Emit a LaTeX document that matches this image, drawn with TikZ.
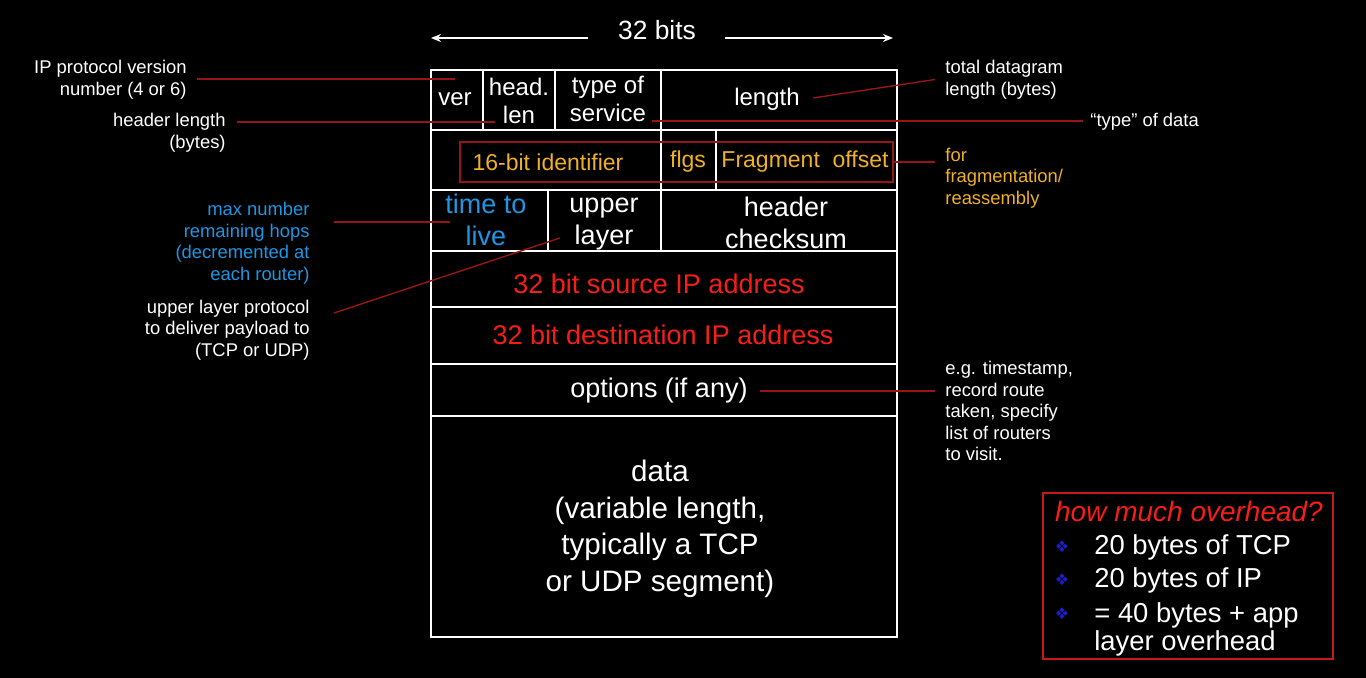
\documentclass[tikz,border=0pt]{standalone}
\usepackage{fontspec}
\setmainfont{Liberation Sans}
\newfontfamily\symfont{DejaVu Sans}
\usetikzlibrary{arrows.meta,calc}
\definecolor{fldorange}{RGB}{240,176,40}
\definecolor{fldblue}{RGB}{30,150,225}
\definecolor{fldred}{RGB}{245,30,25}
\definecolor{leadred}{RGB}{150,22,22}
\definecolor{boxred}{RGB}{200,25,25}
\definecolor{bulletblue}{RGB}{30,30,200}
\tikzset{
  field/.style={text=white, align=center, inner sep=0pt, font=\fontsize{13.5}{16}\selectfont},
  fieldsmall/.style={field, font=\fontsize{12}{14}\selectfont},
  fieldfrag/.style={field, text=fldorange, font=\fontsize{11.5}{14}\selectfont},
  note/.style={text=white, inner sep=0pt, font=\fontsize{9.2}{10.75}\selectfont},
  lead/.style={draw=leadred, line width=0.7pt},
  hdrline/.style={draw=white, line width=1pt},
  widtharrow/.style={draw=white, line width=0.8pt, -{Stealth[length=5pt,width=4pt]}},
  item/.style={text=white, inner sep=0pt, anchor=west, align=left, font=\fontsize{13.7}{14}\selectfont},
  bulletmark/.style={text=bulletblue, inner sep=0pt, font=\symfont\fontsize{8}{8}\selectfont},
}
\begin{document}
\begin{tikzpicture}[x=0.5pt,y=-0.5pt]
  \fill[black] (0,0) rectangle (1366,678);
  \useasboundingbox (0,0) rectangle (1366,678);

  % width of one row
  \node[field, font=\fontsize{13.2}{14}\selectfont] (bits) at (657,30) {32 bits};
  \coordinate (bitsL) at (431,38);
  \coordinate (bitsR) at (893,38);
  \draw[widtharrow] ($(bits.west)+(-30,8)$) -- (bitsL);
  \draw[widtharrow] ($(bits.east)+(29,8)$) -- (bitsR);

  % header grid
  \draw[hdrline] (431,70) rectangle (897,637);
  \foreach \y in {130,190,251,307,364,416}
    \draw[hdrline] (431,\y) -- (897,\y);
  \foreach \x in {483,555,661}
    \draw[hdrline] (\x,70) -- (\x,130);
  \foreach \x in {661,716}
    \draw[hdrline] (\x,130) -- (\x,190);
  \foreach \x in {548,661}
    \draw[hdrline] (\x,190) -- (\x,251);

  % fields
  \node[fieldsmall] (ver) at (455,99) {ver};
  \node[fieldsmall] (hlen) at (519,101) {head.\\len};
  \node[fieldsmall] (tos) at (608,99) {type of\\service};
  \node[fieldsmall] (len) at (767,99) {length};

  \node[fieldfrag] (ident) at (548,162) {16-bit identifier};
  \node[fieldfrag] (flgs) at (688,162) {flgs};
  \node[fieldfrag] (fragoff) at (805,162) {Fragment\ \ offset};
  \node[draw=leadred, line width=0.7pt, minimum width=216.5pt, minimum height=20pt, inner sep=0pt] (fragframe) at (676.5,162) {};

  \node[field, text=fldblue] (ttl) at (486,220) {time to\\live};
  \node[field] (proto) at (604,224) {upper\\layer};
  \node[field] (csum) at (786,223) {header\\checksum};

  \node[field, text=fldred] (src) at (659,284) {32 bit source IP address};
  \node[field, text=fldred] (dst) at (663,335) {32 bit destination IP address};
  \node[field] (opts) at (659,391) {options (if any)};
  \node[field, font=\fontsize{14.8}{18.3}\selectfont] (data) at (660,529) {data\\(variable length,\\typically a TCP\\or UDP segment)};

  % notes on the left
  \node[note, anchor=east, align=right] (verNote) at (187,79.5) {IP protocol version\\number (4 or 6)};
  \node[note, anchor=east, align=right] (hlenNote) at (226,132.5) {header length\\(bytes)};
  \node[note, anchor=east, align=right, text=fldblue] (ttlNote) at (310,243) {max number\\remaining hops\\(decremented at\\each router)};
  \node[note, anchor=east, align=right] (protoNote) at (310,330) {upper layer protocol\\to deliver payload to\\(TCP or UDP)};

  % notes on the right
  \node[note, anchor=west, align=left] (lenNote) at (945,79.5) {total datagram\\length (bytes)};
  \node[note, anchor=west] (tosNote) at (1090,122) {“type” of data};
  \node[note, anchor=west, align=left, text=fldorange] (fragNote) at (945,178) {for\\fragmentation/\\reassembly};
  \node[note, anchor=west, align=left] (optsNote) at (945,411) {e.g. timestamp,\\record route\\taken, specify\\list of routers\\to visit.};

  % leader lines
  \coordinate (verPt) at (455,79);
  \coordinate (hlenPt) at (495,122);
  \coordinate (ttlPt) at (450,222);
  \coordinate (protoPt) at (560,238);
  \coordinate (lenPt) at (813,98);
  \coordinate (tosPt) at (652,121);
  \draw[lead] ($(verNote.east |- verPt)+(10,0)$) -- (verPt);
  \draw[lead] ($(hlenNote.east |- hlenPt)+(11,0)$) -- (hlenPt);
  \draw[lead] ($(ttlNote.east |- ttlPt)+(24,0)$) -- (ttlPt);
  \draw[lead] ($(protoNote.east)+(24,-17)$) -- (protoPt);
  \draw[lead] (lenPt) -- ($(lenNote.west)+(-10,0)$);
  \draw[lead] (tosPt) -- ($(tosNote.west)+(-7,-1)$);
  \draw[lead] (fragframe.east) -- ($(fragNote.west |- fragframe.east)+(-10,0)$);
  \draw[lead] ($(opts.east)+(12,0)$) -- ($(optsNote.west |- opts.east)+(-10,0)$);

  % overhead box
  \draw[boxred, line width=1pt] (1043,493) rectangle (1333,659);
  \node[inner sep=0pt, text=fldred, font=\fontsize{14}{16}\itshape] (ohTitle) at (1189,511) {how much overhead?};
  \node[bulletmark] (b1) at (1062,547) {❖};
  \node[bulletmark] (b2) at (1062,580) {❖};
  \node[bulletmark] (b3) at (1062,614) {❖};
  \node[item] (oh1) at (1094,547) {20 bytes of TCP};
  \node[item] (oh2) at (1094,580) {20 bytes of IP};
  \node[item] (oh3) at (1094,629) {= 40 bytes + app\\layer overhead};
\end{tikzpicture}
\end{document}
